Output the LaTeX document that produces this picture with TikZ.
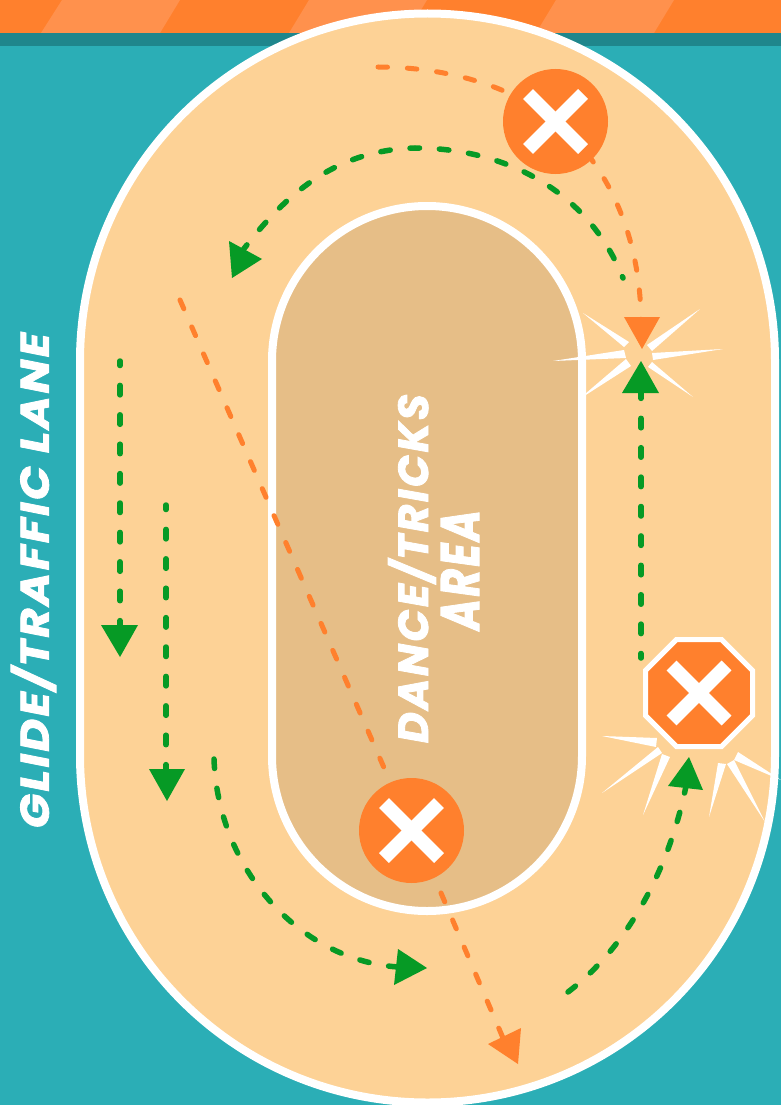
\documentclass[tikz,border=0pt]{standalone}
\usepackage{graphicx}
\usepackage{fontspec}
\newfontfamily\brushfont[LetterSpace=6,BoldItalicFeatures={FakeBold=2}]{Poppins}
\definecolor{tealbg}{HTML}{2BAEB6}
\definecolor{tealdark}{HTML}{1F868C}
\definecolor{hdrorange}{HTML}{FF802D}
\definecolor{hdrlight}{HTML}{FF914D}
\definecolor{peach}{HTML}{FDD296}
\definecolor{tan}{HTML}{E6BE87}
\definecolor{grn}{HTML}{069A25}
\tikzset{
  track/.style={draw=white,line width=8pt},
  gdash/.style={draw=grn,line width=5.5pt,line cap=round,dash pattern=on 9.5pt off 19.9pt,dash phase=5pt},
  odash/.style={draw=hdrorange,line width=5pt,line cap=round,dash pattern=on 9.5pt off 19.9pt,dash phase=0pt},
  ghead/.style={fill=grn,draw=none},
  ohead/.style={fill=hdrorange,draw=none},
  ray/.style={fill=white,draw=none},
  xbar/.style={draw=white,line width=14pt},
  stop/.style={circle,fill=hdrorange,draw=none,minimum size=105pt,inner sep=0pt},
  lbl/.style={inner sep=0pt,text=white,rotate=90}
}
\newcommand{\brushtext}[3]{\resizebox{#1pt}{#2pt}{\brushfont\bfseries\itshape #3}}
\begin{document}
\begin{tikzpicture}[x=1pt,y=-1pt]
\useasboundingbox (0,0) rectangle (781,1105);
\clip (0,0) rectangle (781,1105);
% background and header
\fill[tealbg] (0,0) rectangle (781,1105);
\fill[hdrorange] (0,0) rectangle (781,33);
\fill[tealdark] (0,33) rectangle (781,46);
\fill[hdrlight] (62,0) -- (180,0) -- (160,33) -- (41,33) -- cycle;
\fill[hdrlight] (309,0) -- (427,0) -- (407,33) -- (289,33) -- cycle;
\fill[hdrlight] (556,0) -- (674,0) -- (654,33) -- (536,33) -- cycle;
% tracks
\draw[track,fill=peach] (80,361) arc[start angle=180,end angle=360,radius=347.5] -- (775,755) arc[start angle=0,end angle=180,radius=347.5] -- cycle;
\draw[track,fill=tan] (272,361) arc[start angle=180,end angle=360,radius=155] -- (582,756) arc[start angle=0,end angle=180,radius=155] -- cycle;
% burst 1
\fill[ray] (583,313) -- (629,342) -- (624,347) -- cycle;
\fill[ray] (700,309) -- (647,345) -- (652,351) -- cycle;
\fill[ray] (723,349) -- (652,353) -- (653,360) -- cycle;
\fill[ray] (693,397) -- (652,362) -- (648,367) -- cycle;
\fill[ray] (553,361) -- (624,350) -- (626,358) -- cycle;
\fill[ray] (578,400) -- (626,359) -- (631,366) -- cycle;
% burst 2
\fill[ray] (602,736) -- (657,738) -- (656,747) -- cycle;
\fill[ray] (602,793) -- (658,747) -- (662,753) -- cycle;
\fill[ray] (643,815) -- (662,754) -- (670,757) -- cycle;
\fill[ray] (709,817) -- (718,763) -- (726,764) -- cycle;
\fill[ray] (765,822) -- (727,764) -- (734,760) -- cycle;
\fill[ray] (781,780) -- (734,760) -- (738,752) -- cycle;
% coordinates of connector ends
\coordinate (a1) at (623,278);
\coordinate (a2) at (415,148);
\coordinate (a3) at (243,250);
\coordinate (b1) at (378,67);
\coordinate (b3) at (555,121);
\coordinate (b2) at (641,320);
\coordinate (c1) at (120,361);
\coordinate (c2) at (120,628);
\coordinate (d1) at (166,505);
\coordinate (d2) at (166,772);
\coordinate (e1) at (214,759);
\coordinate (e2) at (398,967);
\coordinate (f1) at (180,300);
\coordinate (f2) at (385,770);
\coordinate (g1) at (441,893);
\coordinate (g2) at (503,1038);
\coordinate (h1) at (641,658);
\coordinate (h2) at (641,392);
\coordinate (i1) at (568,992);
\coordinate (i2) at (686,786);
% connectors
\draw[odash] (b1) .. controls (445,67) and (510,85) .. (b3) .. controls (600,157) and (640,225) .. (b2);
\draw[gdash,dash phase=8pt] (a1) .. controls (590,195) and (510,148) .. (a2) .. controls (335,150) and (285,195) .. (a3);
\draw[gdash] (c1) -- (c2);
\draw[gdash] (d1) -- (d2);
\draw[gdash,dash phase=0pt] (e1) .. controls (218,870) and (300,960) .. (e2);
\draw[odash] (f1) -- (f2);
\draw[odash] (g1) -- (g2);
\draw[gdash] (h1) -- (h2);
\draw[gdash,dash phase=0pt] (i1) .. controls (630,945) and (670,865) .. (i2);
% arrow heads
\fill[ghead] (229,241) -- (262,259) -- (232,278) -- cycle;
\fill[ohead] (624,317) -- (660,317) -- (642,349) -- cycle;
\fill[ghead] (622,393) -- (659,393) -- (641,361) -- cycle;
\fill[ghead] (101,625) -- (138,625) -- (120,657) -- cycle;
\fill[ghead] (149,769) -- (185,769) -- (167,801) -- cycle;
\fill[ghead] (398,949) -- (427,968) -- (394,985) -- cycle;
\fill[ohead] (521,1028) -- (488,1044) -- (518,1064) -- cycle;
\fill[ghead] (668,786) -- (703,790) -- (689,757) -- cycle;
% stop markers
\node[stop] (s1) at (555.5,121.5) {};
\draw[xbar] ([shift={(-27.5,-27.5)}]s1.center) -- ([shift={(27.5,27.5)}]s1.center);
\draw[xbar] ([shift={(-27.5,27.5)}]s1.center) -- ([shift={(27.5,-27.5)}]s1.center);
\node[stop] (s2) at (411.5,830.5) {};
\draw[xbar] ([shift={(-27.5,-27.5)}]s2.center) -- ([shift={(27.5,27.5)}]s2.center);
\draw[xbar] ([shift={(-27.5,27.5)}]s2.center) -- ([shift={(27.5,-27.5)}]s2.center);
\coordinate (s3) at (699,693);
\draw[fill=hdrorange,draw=white,line width=5pt,line join=miter]
  (676.5,639.5) -- (721.5,639.5) -- (752.5,670.5) -- (752.5,715.5) -- (721.5,746.5) -- (676.5,746.5) -- (645.5,715.5) -- (645.5,670.5) -- cycle;
\draw[xbar] ([shift={(-27.5,-27.5)}]s3) -- ([shift={(27.5,27.5)}]s3);
\draw[xbar] ([shift={(-27.5,27.5)}]s3) -- ([shift={(27.5,-27.5)}]s3);
% labels
\node[lbl] (t1) at (33.5,580.5) {\brushtext{495}{38}{GLIDE/TRAFFIC LANE}};
\node[lbl] (t2) at (412,568.5) {\brushtext{349}{40}{DANCE/TRICKS}};
\node[lbl] (t3) at (460,570) {\brushtext{120}{38}{AREA}};
\end{tikzpicture}
\end{document}
